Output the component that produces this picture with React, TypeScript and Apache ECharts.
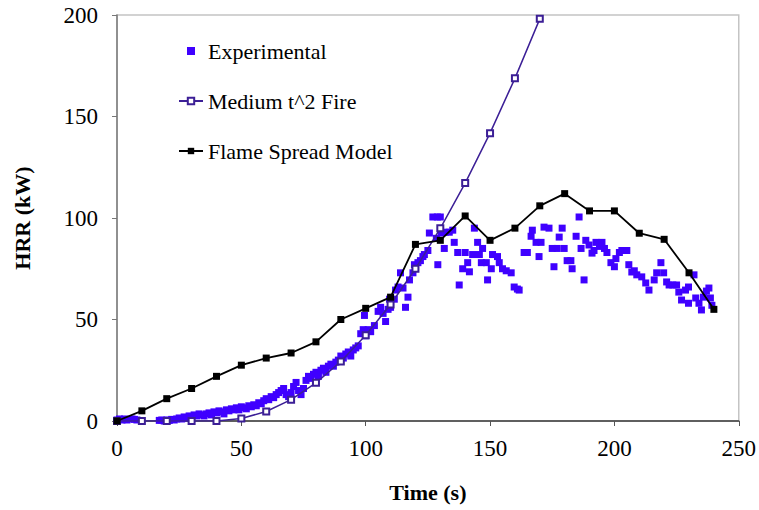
import React, { useEffect, useRef } from 'react';
import * as echarts from 'echarts';

// Experimental measurements (time s, HRR kW)
const expTime: number[] = [
  0, 1, 2, 3, 4, 6, 7, 8, 17, 18,
  19, 20, 21, 22, 23, 24, 25, 26, 27, 28,
  29, 30, 31, 32, 33, 34, 35, 36, 37, 38,
  39, 40, 41, 42, 43, 44, 45, 46, 47, 48,
  49, 50, 51, 52, 53, 54, 55, 56, 57, 58,
  59, 60, 61, 62, 63, 64, 65, 66, 67, 68,
  69, 70, 71, 72, 73, 74, 75, 76, 77, 78,
  79, 80, 81, 82, 83, 84, 85, 86, 87, 88,
  89, 90, 91, 92, 93, 94, 95, 96, 97, 98,
  99, 99.5, 100, 101, 102, 103.5, 105, 106, 107, 108,
  109, 109.6, 110, 111.5, 112, 113, 114, 115, 116, 117,
  117.6, 119, 119.6, 121, 122, 123, 123.6, 125, 125.6, 127,
  128.4, 128.8, 129, 130, 130.4, 131.6, 132, 133.6, 135, 135.6,
  137, 137.6, 139, 140, 141, 141.7, 143, 143.7, 145, 145.7,
  146.5, 147, 148.5, 149, 150.5, 151, 153, 153.7, 155, 156.5,
  158.5, 159.7, 161, 161.7, 163.7, 165, 166.5, 167, 168.5, 169.7,
  170.5, 171.7, 173.7, 175, 175.7, 177, 177.8, 179, 179.8, 181,
  182.5, 183, 184.6, 185.8, 186.6, 187.8, 188.5, 189.8, 191, 191.8,
  192.6, 194, 195, 196, 197, 198.6, 200, 200.6, 202, 203,
  205, 205.8, 207, 208, 209, 211, 212.6, 213.9, 216, 217,
  218.7, 219.8, 221, 222, 223.5, 225, 225.9, 227, 228.6, 229.8,
  229.8, 232, 232.7, 234, 235, 235.8, 237, 238, 238.6, 239.2,
];
const expHrr: number[] = [
  0.5, 1, 0.5, 1, 0.5, 1, 0.8, 0.5, 0.3, 0.5,
  0, 0.5, 0.3, 0.8, 0.5, 1, 1.5, 1, 2, 1.5,
  2.5, 2, 3, 2.5, 3.5, 3, 2.5, 3.5, 4, 3,
  4.5, 4, 5, 4.5, 3.5, 5.5, 5, 6, 5.5, 6.5,
  5.5, 7, 6.5, 6, 7.5, 7, 8, 7.5, 9, 8.5,
  10, 11, 10.5, 12, 11.5, 13, 14, 15, 16, 13,
  12, 14, 17, 19, 15, 13, 16, 20, 22, 21,
  23, 24, 22, 25, 26, 24, 27, 28, 27, 29,
  30, 32, 31, 33, 34, 32, 35, 36, 37, 43,
  45, 52, 42, 45, 44, 47, 54, 56, 53, 49,
  55, 60, 56, 60, 64.5, 66, 73, 65.5, 56, 61,
  69.5, 73, 77, 78, 79, 81, 82, 84, 92.6, 100.5,
  90, 100.5, 77, 100.5, 92.6, 85, 93, 93, 94, 88,
  83, 67, 75, 83, 78, 73.5, 82, 95, 88, 82,
  78, 85, 78, 69.5, 75, 82, 81, 78, 75, 74,
  73, 66, 65, 64.5, 83, 83, 91, 94, 88, 81,
  88, 95.5, 95, 85, 76, 85, 90.6, 95, 85, 79,
  79, 75, 91, 100.5, 85, 69.5, 89, 86.7, 82.7, 84,
  88, 86, 88, 85, 83, 78, 76, 80, 83, 84,
  84, 77, 73.4, 74, 72, 71, 68, 64.5, 69.5, 73,
  78, 73, 68.5, 67, 67, 67, 63.5, 59.6, 64.5, 66,
  58, 72, 60.6, 58, 54.7, 61, 64, 65.5, 60.6, 57,
];

// Medium t^2 fire curve
const mediumTime: number[] = [0, 10, 20, 30, 40, 50, 60, 70, 80, 90, 100, 110, 120, 130, 140, 150, 160, 170];
const mediumHrr: number[] = [0, 0, 0, 0, 0, 1.2, 4.7, 10.5, 18.8, 29.3, 42.2, 57.4, 75, 94.9, 117.2, 141.8, 168.8, 198.1];

// Flame spread model
const flameTime: number[] = [0, 10, 20, 30, 40, 50, 60, 70, 80, 90, 100, 110, 120, 130, 140, 150, 160, 170, 180, 190, 200, 210, 220, 230, 240];
const flameHrr: number[] = [0, 5, 11, 16, 22, 27.5, 31, 33.5, 39, 50, 55.5, 61, 87, 89, 101, 89, 95, 106, 112, 103.5, 103.5, 92.5, 89.5, 73, 55];

const seriesNames = ['Experimental', 'Medium t^2 Fire', 'Flame Spread Model'];
const xTitle = 'Time (s)';
const yTitle = 'HRR (kW)';

const zip = (a: number[], b: number[]) => a.map((v, i) => [v, b[i]]);

const FONT = '"Liberation Serif", "Times New Roman", serif';

export default function App() {
  const ref = useRef<HTMLDivElement>(null);

  useEffect(() => {
    if (!ref.current) return;
    const chart = echarts.init(ref.current, undefined, { renderer: 'svg' });
    chart.setOption({
      animation: false,
      backgroundColor: '#ffffff',
      textStyle: { fontFamily: FONT },
      grid: {
        left: 117,
        right: 19,
        top: 15,
        bottom: 89,
        show: true,
        borderColor: '#c4c4c4',
        borderWidth: 1.5,
        backgroundColor: 'transparent',
      },
      legend: {
        orient: 'vertical',
        left: 178,
        top: 40,
        padding: 0,
        itemGap: 28,
        itemWidth: 24,
        itemHeight: 8,
        textStyle: { fontFamily: FONT, fontSize: 22, color: '#000', lineHeight: 22 },
        data: [
          { name: seriesNames[0], icon: 'path://M0 0H10V10H0Z' },
          { name: seriesNames[1] },
          { name: seriesNames[2] },
        ],
      },
      xAxis: {
        type: 'value',
        min: 0,
        max: 250,
        interval: 50,
        name: xTitle,
        nameLocation: 'middle',
        nameGap: 60,
        nameTextStyle: { fontFamily: FONT, fontSize: 22, fontWeight: 'bold', color: '#000' },
        axisLine: { show: true, lineStyle: { color: '#3a3a3a', width: 1.5 } },
        axisTick: { show: true, inside: false, length: 5, lineStyle: { color: '#555', width: 1 } },
        axisLabel: { fontFamily: FONT, fontSize: 23, color: '#000', margin: 16 },
        splitLine: { show: false },
      },
      yAxis: {
        type: 'value',
        min: 0,
        max: 200,
        interval: 50,
        name: yTitle,
        nameLocation: 'middle',
        nameGap: 84,
        nameRotate: 90,
        nameTextStyle: { fontFamily: FONT, fontSize: 22, fontWeight: 'bold', color: '#000' },
        axisLine: { show: true, lineStyle: { color: '#7a7a7a', width: 1.5 } },
        axisTick: { show: true, inside: false, length: 5, lineStyle: { color: '#777', width: 1 } },
        axisLabel: { fontFamily: FONT, fontSize: 23, color: '#000', margin: 19 },
        splitLine: { show: false },
      },
      series: [
        {
          name: seriesNames[0],
          type: 'scatter',
          symbol: 'rect',
          symbolSize: 7,
          itemStyle: { color: '#3f00ff', opacity: 1 },
          data: zip(expTime, expHrr),
          z: 2,
        },
        {
          name: seriesNames[1],
          type: 'line',
          symbol: 'emptyRect',
          symbolSize: 6,
          showAllSymbol: true,
          lineStyle: { color: '#3c1f96', width: 1.5 },
          itemStyle: { color: '#3c1f96', borderColor: '#3c1f96', borderWidth: 1 },
          data: zip(mediumTime, mediumHrr),
          z: 3,
        },
        {
          name: seriesNames[2],
          type: 'line',
          symbol: 'rect',
          symbolSize: 7,
          showAllSymbol: true,
          lineStyle: { color: '#000', width: 1.8 },
          itemStyle: { color: '#000' },
          data: zip(flameTime, flameHrr),
          z: 4,
        },
      ],
    });
    return () => chart.dispose();
  }, []);

  return (
    <div
      ref={ref}
      style={{ position: 'fixed', left: 0, top: 0, width: 759, height: 510, background: '#fff' }}
    />
  );
}
